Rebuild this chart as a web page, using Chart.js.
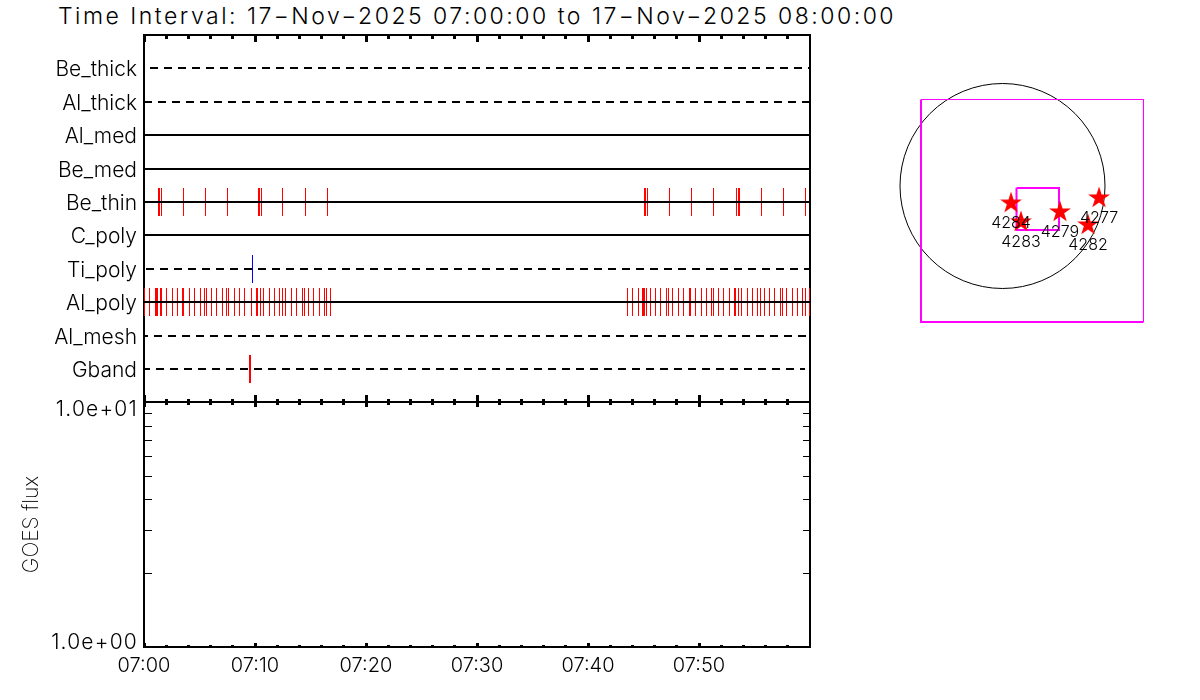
<!DOCTYPE html>
<html>
<head>
<meta charset="utf-8">
<title>Time Interval</title>
<script src="https://cdn.jsdelivr.net/npm/chart.js@4"></script>
<style>
  html, body { margin: 0; padding: 0; background: #fff; }
  canvas { position: absolute; }
  #heading { position: absolute; left: 58px; top: 2px; white-space: nowrap; color: #000;
    font: 300 23px Inter, sans-serif; letter-spacing: 2.49px; }
</style>
</head>
<body>
<div id="heading">Time Interval: 17&#8722;Nov&#8722;2025 07:00:00 to 17&#8722;Nov&#8722;2025 08:00:00</div>
<canvas id="lightcurves" width="830" height="420" style="left:0;top:0"></canvas>
<canvas id="goes" width="830" height="320" style="left:0;top:380px"></canvas>
<canvas id="locator" width="270" height="270" style="left:890px;top:70px"></canvas>
<script>
// seconds after 07:00
const rows = ['Be_thick', 'Al_thick', 'Al_med', 'Be_med', 'Be_thin', 'C_poly', 'Ti_poly', 'Al_poly', 'Al_mesh', 'Gband'];
const rowStart = [32.4, 0, 0, 0, 0, 0, 10.8, 0, 0, 0];
const rowEnd = [3600, 3600, 3600, 3600, 3600, 3600, 3600, 3600, 3578.4, 3573];

const beThinTimes = [78.4, 83.8, 94.6, 213.5, 332.4, 451.4, 618.9, 624.3, 635.1, 748.6, 873.0, 991.9,
  2705.4, 2710.8, 2721.6, 2840.5, 2959.5, 3078.4, 3202.7, 3213.5, 3218.9, 3337.8, 3456.8, 3575.7];
const tiPolyTimes = [586.5];
const alPolyTimes = [2.7, 29.7, 62.2, 67.6, 73.0, 89.2, 94.6, 121.6, 154.1, 181.1, 208.1, 213.5, 245.9, 273.0, 305.4,
  327.0, 337.8, 364.9, 391.9, 424.3, 445.9, 456.8, 489.2, 516.2, 543.2, 581.1, 608.1, 613.5, 629.7, 645.9, 678.4,
  705.4, 732.4, 748.6, 764.9, 797.3, 824.3, 856.8, 867.6, 889.2, 916.2, 948.6, 975.7, 986.5, 1008.1,
  2613.5, 2640.5, 2673.0, 2694.6, 2700.0, 2705.4, 2716.2, 2737.8, 2764.9, 2791.9, 2824.3, 2835.1, 2856.8, 2889.2,
  2916.2, 2948.7, 2954.1, 2981.1, 3013.5, 3040.5, 3067.6, 3078.4, 3105.4, 3132.4, 3164.9, 3191.9, 3197.3,
  3213.5, 3229.7, 3262.2, 3289.2, 3316.2, 3332.4, 3354.1, 3381.1, 3408.1, 3440.5, 3451.4, 3473.0, 3505.4,
  3532.4, 3559.5, 3575.7, 3597.3];
const gbandTimes = [570.3, 575.7];

const tickSeconds = [0, 120, 240, 360, 480, 600, 720, 840, 960, 1080, 1200, 1320, 1440, 1560, 1680, 1800,
  1920, 2040, 2160, 2280, 2400, 2520, 2640, 2760, 2880, 3000, 3120, 3240, 3360, 3480];
const timeLabels = ['07:00', '07:10', '07:20', '07:30', '07:40', '07:50'];

const fluxTicks = [2, 3, 4, 5, 6, 7, 8, 9];
const fluxMajor = [10, 1];
const fluxLabels = ['1.0e+01', '1.0e+00'];

// solar disk, arcsec
const diskX = [0];
const diskY = [0];
const fovX = [-763, 1320, 1320, -763, -763];
const fovY = [810, 810, -1273, -1273, 810];
const boxX = [131, 529, 529, 131, 131];
const boxY = [-19, -19, -412, -412, -19];
const regionNames = ['4284', '4283', '4279', '4282', '4277'];
const regionX = [80, 173, 538, 801, 904];
const regionY = [-160, -337, -243, -365, -112];

const dashedRows = [0, 1, 6, 8, 9];
const dashOffsets = { 8: 4, 9: 2 };
const FONT = { family: 'Inter, sans-serif', size: 20, weight: 300 };

Chart.defaults.animation = false;
Chart.defaults.responsive = false;
Chart.defaults.events = [];
Chart.defaults.color = '#000';
Chart.defaults.plugins.legend.display = false;
Chart.defaults.plugins.tooltip.enabled = false;

function pairs(xs, ys) {
  return xs.map((x, i) => ({ x: x, y: ys[i] }));
}

function xTicks(chart, edge, minorLen, majorLen) {
  const ctx = chart.ctx;
  ctx.fillStyle = '#000';
  tickSeconds.forEach(t => {
    const px = Math.floor(chart.scales.x.getPixelForValue(t)) - 1;
    const a = t % 600 === 0 ? majorLen : minorLen;
    ctx.fillRect(px, edge + Math.min(a[0], a[1]), 3, Math.abs(a[1] - a[0]));
  });
}

function marks(times, row, color) {
  return {
    data: times.map(t => ({ x: t, y: row })),
    pointStyle: 'line',
    rotation: 90,
    pointRadius: 14,
    pointBorderWidth: 1,
    pointBorderColor: color,
    showLine: false,
    clip: false
  };
}

const rowLines = rows.map((name, i) => ({
  data: [{ x: rowStart[i], y: i + 1 }, { x: rowEnd[i], y: i + 1 }],
  showLine: true,
  pointRadius: 0,
  borderColor: '#000',
  borderWidth: 2,
  borderDash: dashedRows.includes(i) ? [8, 6] : [],
  borderDashOffset: dashOffsets[i] || 0
}));

new Chart(document.getElementById('lightcurves'), {
  type: 'scatter',
  data: {
    datasets: rowLines.concat([
      marks(beThinTimes, 5, '#f00'),
      marks(tiPolyTimes, 7, '#00f'),
      marks(alPolyTimes, 8, '#f00'),
      marks(gbandTimes, 10, '#f00')
    ])
  },
  options: {
    layout: { padding: { top: 35, right: 20, bottom: 18 }, autoPadding: false },
    scales: {
      x: { type: 'linear', min: 0, max: 3600, display: false },
      y: {
        reverse: true,
        min: 0,
        max: 10.99,
        grid: { display: false, drawTicks: false },
        border: { display: false },
        afterFit: s => {
          s.width = 144;
          s.paddingTop = 0;
          s.paddingBottom = 0;
        },
        afterBuildTicks: s => { s.ticks = rows.map((r, i) => ({ value: i + 1 })); },
        ticks: {
          font: { family: FONT.family, size: 21, weight: 300 },
          padding: 7,
          autoSkip: false,
          callback: v => rows[v - 1]
        }
      }
    }
  },
  plugins: [{
    id: 'rowFrame',
    afterLayout(chart) {
      // rows sit on whole pixels, their names a little below the line
      const y = chart.scales.y;
      const raw = y.getPixelForValue.bind(y);
      y.getPixelForValue = v => Math.round(raw(v));
      y.getPixelForTick = i => y.getPixelForValue(y.ticks[i].value) + 2;
    },
    beforeDatasetsDraw(chart) {
      const a = chart.chartArea, ctx = chart.ctx;
      ctx.save();
      ctx.strokeStyle = '#000';
      ctx.lineWidth = 2;
      ctx.strokeRect(a.left, a.top, a.right - a.left, a.bottom - a.top);
      xTicks(chart, a.top, [0, 4], [0, 7]);
      xTicks(chart, a.bottom, [-3, 0], [-7, 0]);
      ctx.restore();
    }
  }]
});

new Chart(document.getElementById('goes'), {
  type: 'scatter',
  data: { datasets: [{ data: [] }] },
  options: {
    layout: { padding: { top: 22, right: 20 } },
    scales: {
      x: {
        type: 'linear',
        min: 0,
        max: 3600,
        grid: { display: false, drawTicks: false },
        border: { display: false },
        afterFit: s => { s.height = 53; },
        afterBuildTicks: s => { s.ticks = tickSeconds.map(t => ({ value: t })); },
        ticks: {
          font: FONT,
          padding: 7,
          autoSkip: false,
          maxRotation: 0,
          callback: v => (v % 600 === 0 && timeLabels[v / 600]) || ''
        }
      },
      y: {
        type: 'logarithmic',
        min: 1,
        max: 10,
        grid: { display: false, drawTicks: false },
        border: { display: false },
        ticks: { display: false },
        afterFit: s => { s.width = 144; },
        title: { display: true, text: 'GOES flux', font: { family: FONT.family, size: 21, weight: 200 }, padding: { top: 19, bottom: 0 } }
      }
    }
  },
  plugins: [{
    id: 'fluxFrame',
    afterDraw(chart) {
      const a = chart.chartArea, ctx = chart.ctx, y = chart.scales.y;
      ctx.save();
      ctx.strokeStyle = '#000';
      ctx.lineWidth = 2;
      ctx.strokeRect(a.left, a.top, a.right - a.left, a.bottom - a.top);
      xTicks(chart, a.top, [0, 3], [0, 5]);
      xTicks(chart, a.bottom, [-2, 0], [-4, 0]);
      ctx.lineWidth = 1;
      fluxTicks.forEach(v => {
        const py = Math.round(y.getPixelForValue(v)) + 0.5;
        ctx.beginPath();
        ctx.moveTo(a.left, py);
        ctx.lineTo(a.left + 8, py);
        ctx.moveTo(a.right - 7, py);
        ctx.lineTo(a.right, py);
        ctx.stroke();
      });
      ctx.fillStyle = '#000';
      ctx.font = FONT.weight + ' 21px ' + FONT.family;
      ctx.letterSpacing = '1.2px';
      ctx.textAlign = 'right';
      ctx.textBaseline = 'middle';
      ctx.fillText(fluxLabels[0], 138, y.getPixelForValue(fluxMajor[0]) + 8);
      ctx.fillText(fluxLabels[1], 138, y.getPixelForValue(fluxMajor[1]) - 4);
      ctx.restore();
    }
  }]
});

// five point star for the active regions
const star = document.createElement('canvas');
star.width = star.height = 24;
const sc = star.getContext('2d');
sc.fillStyle = '#f00';
sc.beginPath();
for (let i = 0; i < 10; i++) {
  const r = i % 2 ? 4.4 : 11.5;
  const ang = -Math.PI / 2 + i * Math.PI / 5;
  sc.lineTo(12 + r * Math.cos(ang), 12 + r * Math.sin(ang));
}
sc.closePath();
sc.fill();

new Chart(document.getElementById('locator'), {
  type: 'scatter',
  data: {
    datasets: [
      {
        data: pairs(regionX, regionY),
        pointStyle: star,
        pointRadius: 11,
        showLine: false,
        clip: false
      },
      {
        data: pairs(boxX, boxY),
        showLine: true,
        pointRadius: 0,
        borderColor: '#f0f',
        borderWidth: 2
      },
      {
        data: pairs(fovX, fovY),
        showLine: true,
        pointRadius: 0,
        borderColor: '#f0f',
        borderWidth: 2,
        // top and right edges come out hairline in the original
        segment: { borderWidth: c => (c.p0DataIndex < 2 ? 1 : 2) }
      },
      {
        data: pairs(diskX, diskY),
        pointRadius: 102.5,
        pointBackgroundColor: 'rgba(0,0,0,0)',
        pointBorderColor: '#000',
        pointBorderWidth: 1,
        showLine: false
      }
    ]
  },
  options: {
    // the disk marker is huge, keep the scales from shrinking around it
    layout: { autoPadding: false },
    scales: {
      x: { type: 'linear', min: -1053.4, max: 1474.7, display: false },
      y: { type: 'linear', min: -1442, max: 1086.1, display: false }
    }
  },
  plugins: [{
    id: 'regionLabels',
    afterDatasetsDraw(chart) {
      const ctx = chart.ctx;
      ctx.save();
      ctx.fillStyle = '#000';
      ctx.font = '300 16px ' + FONT.family;
      ctx.textAlign = 'center';
      ctx.textBaseline = 'middle';
      regionNames.forEach((name, i) => {
        ctx.fillText(name, chart.scales.x.getPixelForValue(regionX[i]), chart.scales.y.getPixelForValue(regionY[i]) + 20);
      });
      ctx.restore();
    }
  }]
});
</script>
</body>
</html>
